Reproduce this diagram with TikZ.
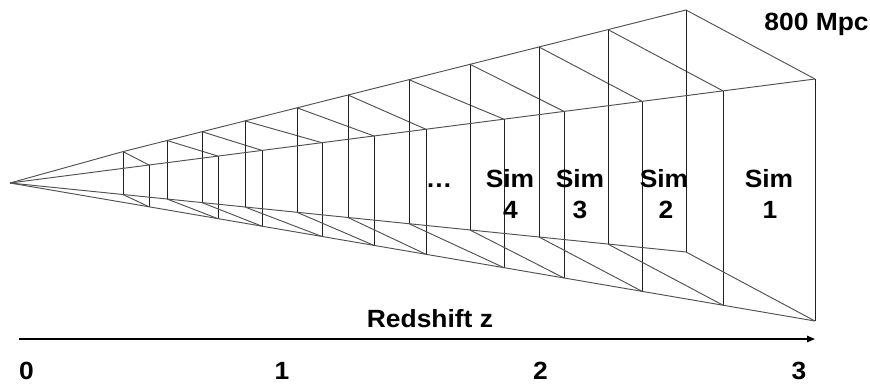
\documentclass[tikz,border=0pt]{standalone}
\usepackage{fontspec}
\setmainfont{Liberation Sans}[FakeStretch=1.06]
\usetikzlibrary{arrows.meta}
\begin{document}
\begin{tikzpicture}[x=1bp,y=-1bp,
  ray/.style={draw=black!68, line width=0.95bp},
  vert/.style={draw=black!88, line width=0.95bp},
  lbl/.style={font=\fontsize{25}{30}\selectfont\bfseries, inner sep=0pt, anchor=base},
  axisline/.style={draw=black, line width=1.3bp, -{Triangle[length=8bp,width=6.5bp]}}]
\useasboundingbox (0,0) rectangle (870,383);
\coordinate (A) at (10,183);
\foreach \i/\xb/\tb/\bb/\xf/\tf/\by in {
  1/123/151.6/194.5/149/165.0/206.8,
  2/167/140.5/199.0/218/156.1/218.7,
  3/202/131.7/202.6/262/150.4/226.2,
  4/245/120.9/207.0/322/142.7/236.5,
  5/297/107.8/212.3/374/136.0/245.4,
  6/348/95.0/217.5/426/129.3/254.3,
  7/409/79.7/223.7/504/119.2/267.7,
  8/470/64.3/230.0/564/111.4/278.0,
  9/539/47.0/237.0/642/101.3/291.3,
  10/608/29.6/244.1/723/90.9/305.2,
  11/686/10.0/252.0/815/79.0/321.0}{
  \coordinate (TB\i) at (\xb,\tb);
  \coordinate (BB\i) at (\xb,\bb);
  \coordinate (TF\i) at (\xf,\tf);
  \coordinate (BF\i) at (\xf,\by);
  \draw[ray] (TB\i) -- (TF\i);
  \draw[ray] (BB\i) -- (BF\i);
  \draw[vert] (TB\i) -- (BB\i);
  \draw[vert] (TF\i) -- (BF\i);
}
\draw[ray] (A) -- (TB1) -- (TB11);
\draw[ray] (A) -- (TF1) -- (TF11);
\draw[ray] (A) -- (BB1) -- (BB11);
\draw[ray] (A) -- (BF1) -- (BF11);
% axis
\coordinate (z0) at (19,339);
\coordinate (z3) at (815,339);
\draw[axisline] (z0) -- (z3);
% labels
\node[lbl] (mpc) at (816.5,30) {800 Mpc};
\node[lbl] (red) at (430,327) {Redshift z};
\node[lbl] (dots) at (439,187) {…};
\node[lbl] (sim4) at (510,187) {Sim};
\node[lbl] (n4) at (510.5,218) {4};
\node[lbl] (sim3) at (580,187) {Sim};
\node[lbl] (n3) at (580,218) {3};
\node[lbl] (sim2) at (664,187) {Sim};
\node[lbl] (n2) at (666,218) {2};
\node[lbl] (sim1) at (769,187) {Sim};
\node[lbl] (n1) at (770,218) {1};
\node[lbl] (l0) at (26.5,379.5) {0};
\node[lbl] (l1) at (282,379.5) {1};
\node[lbl] (l2) at (540.5,379.5) {2};
\node[lbl] (l3) at (799,379.5) {3};
\end{tikzpicture}
\end{document}
